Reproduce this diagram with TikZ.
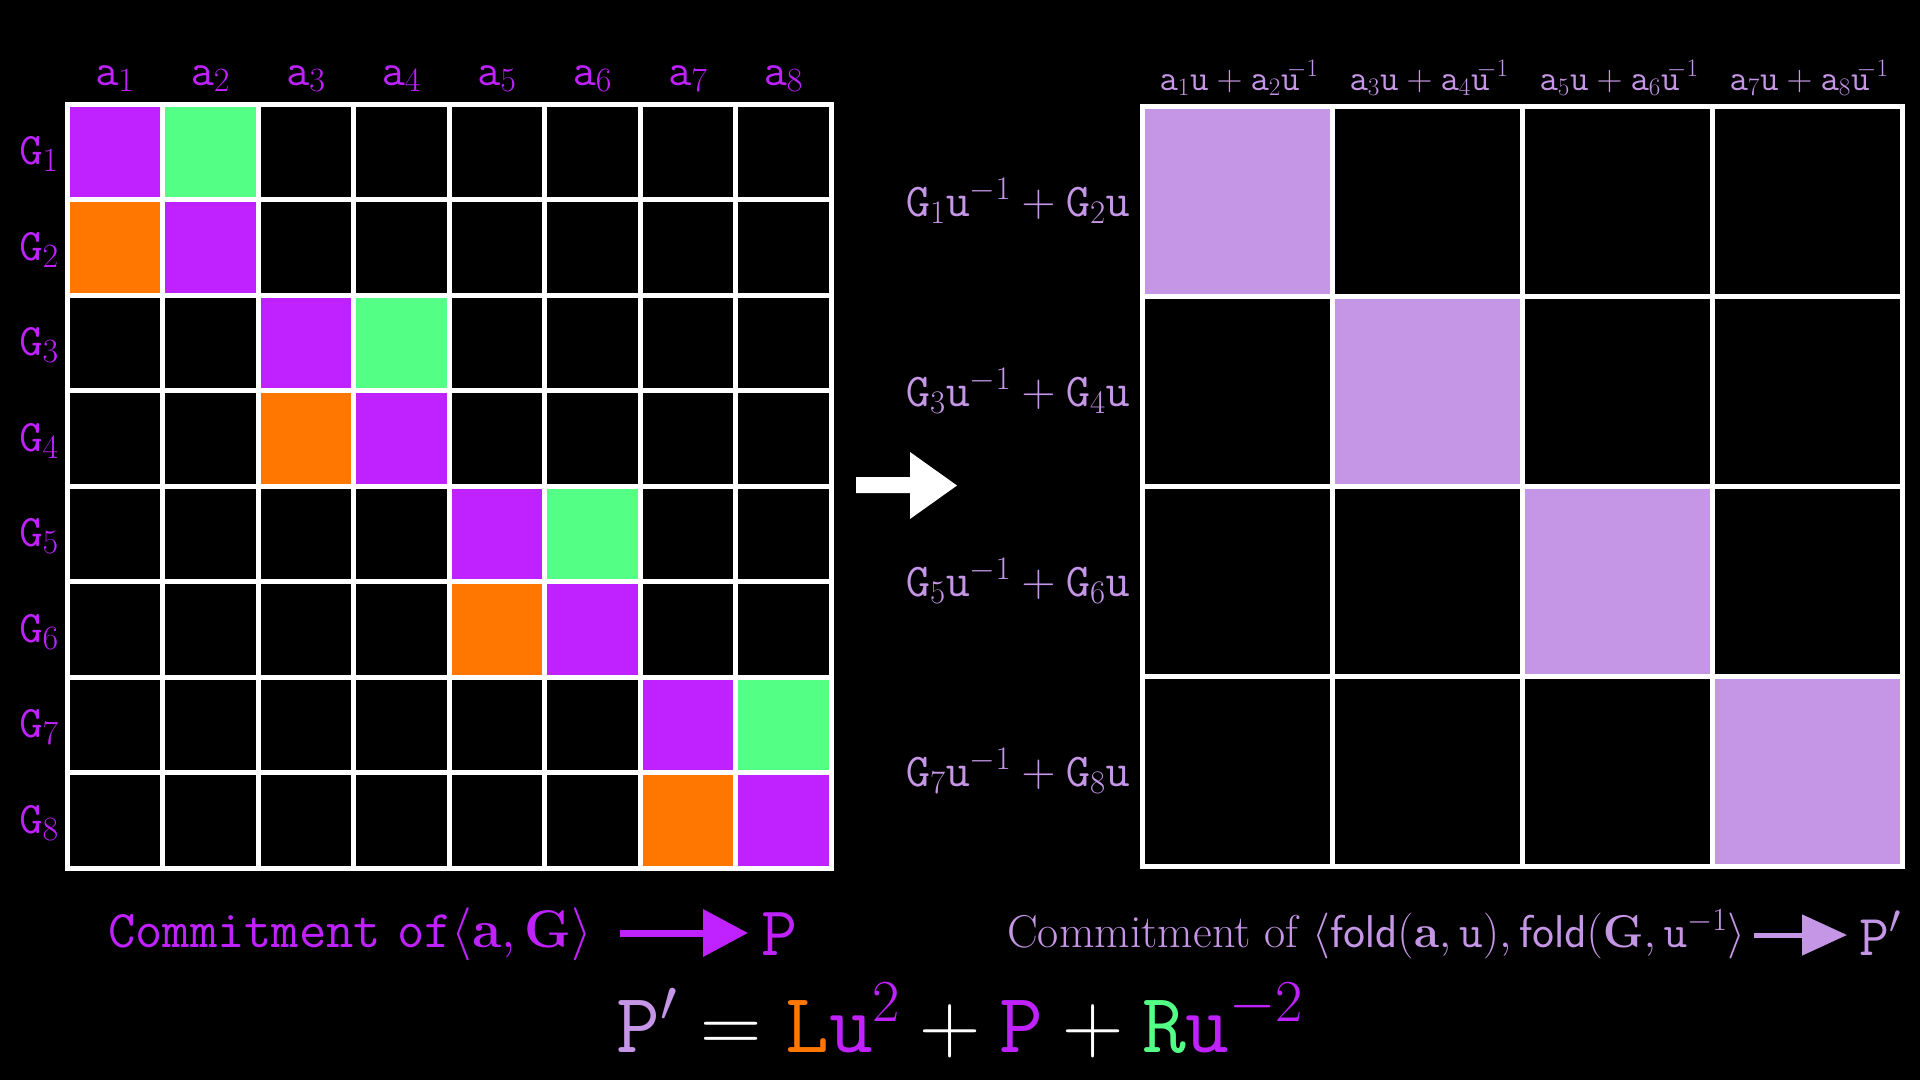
\documentclass[tikz,border=0pt]{standalone}
\usepackage{fix-cm}
\usepackage{amsmath}
\usetikzlibrary{arrows.meta,calc}
\definecolor{vio}{RGB}{192,34,255}
\definecolor{grn}{RGB}{83,255,133}
\definecolor{org}{RGB}{255,119,0}
\definecolor{lav}{RGB}{197,150,230}
\DeclareMathSizes{45}{45}{34}{25}
\newcommand{\setfs}[1]{\fontsize{#1}{#1}\selectfont}
\tikzset{
  lab/.style={inner sep=0pt, anchor=base},
  gridline/.style={draw=white, line width=5pt, line cap=rect},
}
\begin{document}
\begin{tikzpicture}[x=1pt,y=-1pt]
\fill[black] (0,0) rectangle (1920,1080);
\useasboundingbox (0,0) rectangle (1920,1080);
% ---------- left grid ----------
\def\Lx{67}\def\Ly{104}\def\Lc{95.5}
\foreach \k in {0,1,2,3}{
  \fill[vio] ({\Lx+2*\k*\Lc},{\Ly+2*\k*\Lc}) rectangle ++(\Lc,\Lc);
  \fill[vio] ({\Lx+(2*\k+1)*\Lc},{\Ly+(2*\k+1)*\Lc}) rectangle ++(\Lc,\Lc);
  \fill[grn] ({\Lx+(2*\k+1)*\Lc},{\Ly+2*\k*\Lc}) rectangle ++(\Lc,\Lc);
  \fill[org] ({\Lx+2*\k*\Lc},{\Ly+(2*\k+1)*\Lc}) rectangle ++(\Lc,\Lc);
}
\foreach \i in {0,...,8}{
  \draw[gridline] ({\Lx+\i*\Lc},\Ly) -- ++(0,{8*\Lc});
  \draw[gridline] (\Lx,{\Ly+\i*\Lc}) -- ++({8*\Lc},0);
}
\foreach \j in {1,...,8}
  \node[lab, text=vio, font=\setfs{45}] (a\j) at ({\Lx+(\j-0.5)*\Lc},85) {$\mathtt{a}_{\j}$};
\foreach \i in {1,...,8}
  \node[lab, text=vio, font=\setfs{45}] (g\i) at (39,{\Ly+(\i-0.5)*\Lc+13}) {$\mathtt{G}_{\i}$};
% ---------- right grid ----------
\def\Rx{1142}\def\Ry{106.5}\def\Rc{190}
\foreach \k in {0,1,2,3}
  \fill[lav] ({\Rx+\k*\Rc},{\Ry+\k*\Rc}) rectangle ++(\Rc,\Rc);
\foreach \i in {0,...,4}{
  \draw[gridline] ({\Rx+\i*\Rc},\Ry) -- ++(0,{4*\Rc});
  \draw[gridline] (\Rx,{\Ry+\i*\Rc}) -- ++({4*\Rc},0);
}
\foreach \j/\p/\q in {1/1/2,2/3/4,3/5/6,4/7/8}
  \node[lab, text=lav, font=\setfs{36}] (c\j) at ({\Rx+(\j-0.5)*\Rc+2},90)
    {$\mathtt{a}_{\p}\mathtt{u}+\mathtt{a}_{\q}\mathtt{u}^{\mkern-9mu-1}$};
\foreach \i/\p/\q in {1/1/2,2/3/4,3/5/6,4/7/8}
  \node[lab, anchor=base east, text=lav, font=\setfs{47}] (r\i) at (1130,{\Ry+(\i-0.5)*\Rc+15})
    {$\mathtt{G}_{\p}\mathtt{u}^{-1}+\mathtt{G}_{\q}\mathtt{u}$};
% ---------- big arrow ----------
\fill[white] (856,477) -- (910,477) -- (910,452) -- (957,485.5) -- (910,519) -- (910,493) -- (856,493) -- cycle;
% ---------- bottom left ----------
\node[lab, anchor=base west, text=vio, font=\setfs{53}] (cm) at (108,947)
  {\texttt{Commitment}\hspace{0.3em}\texttt{of}$\langle\mathbf{a},\mathbf{G}\rangle$};
\node[lab, anchor=base west, text=vio, font=\setfs{70}] (P) at (761,955) {$\mathtt{P}$};
\coordinate (ayl) at (0,933);
\draw[vio, line width=7pt, -{Triangle[length=45pt,width=46pt]}]
  ($(cm.east|-ayl)+(28,0)$) -- ($(P.west|-ayl)+(-13,0)$);
% ---------- bottom right ----------
\node[lab, anchor=base west, text=lav, font=\setfs{46}] (cf) at (1007,947)
  {Commitment of $\langle\mathsf{fold}(\mathbf{a},\mathtt{u}),\mathsf{fold}(\mathbf{G},\mathtt{u}^{-1}\rangle$};
\node[lab, anchor=base west, text=lav, font=\setfs{58}] (Pp) at (1859,955) {$\mathtt{P}'$};
\coordinate (ayr) at (0,935);
\draw[lav, line width=5pt, -{Triangle[length=45pt,width=40pt]}]
  ($(cf.east|-ayr)+(8,0)$) -- ($(Pp.west|-ayr)+(-12,0)$);
% ---------- equation ----------
\node[lab, text=vio, font=\setfs{85}] (eq) at (960,1052)
  {$\textcolor{lav}{\mathtt{P}'}\mathrel{\textcolor{white}{=}}\textcolor{org}{\mathtt{L}}\mathtt{u}^{2}\mathbin{\textcolor{white}{+}}\mathtt{P}\mathbin{\textcolor{white}{+}}\textcolor{grn}{\mathtt{R}}\mathtt{u}^{-2}$};
\end{tikzpicture}
\end{document}
